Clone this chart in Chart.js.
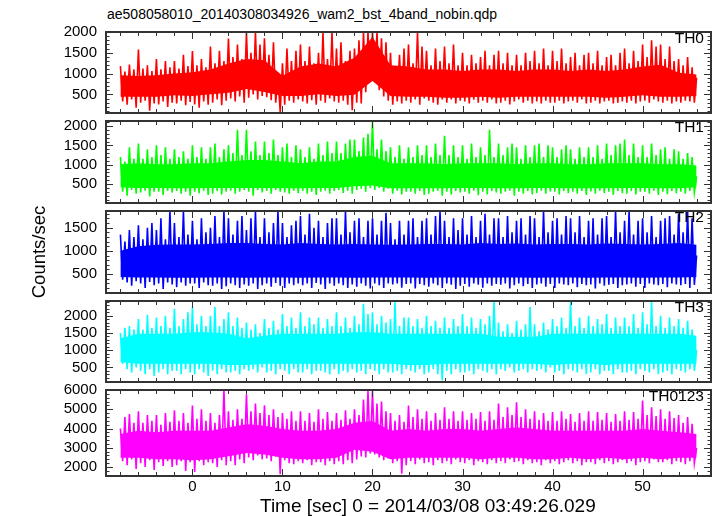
<!DOCTYPE html>
<html><head><meta charset="utf-8">
<script src="https://cdn.jsdelivr.net/npm/chart.js@4.4.1/dist/chart.umd.min.js"></script>
<style>
html,body{margin:0;padding:0;background:#fff;}
#wrap{position:relative;width:717px;height:516px;overflow:hidden;font-family:"Liberation Sans",Arial,Helvetica,sans-serif;}
canvas{position:absolute;left:0;}
.lbl{position:absolute;font-size:15.5px;line-height:18px;color:#000;white-space:nowrap;}
</style></head><body>
<div id="wrap"></div>
<script>
const TITLE = "ae508058010_20140308034926_wam2_bst_4band_nobin.qdp";
const X_LABEL = "Time [sec] 0 = 2014/03/08 03:49:26.029";
const Y_LABEL = "Counts/sec";
const PANEL_NAMES = ["TH0", "TH1", "TH2", "TH3", "TH0123"];
const TIME_START = -8, TIME_STEP = 0.25;   // fine light-curve samples
const CORE_STEP = 2;                       // dense-band envelope samples

// fine samples (alternating local highs / lows), counts/sec
const TH0 = [
1180,330,1050,250,1220,380,1100,180,
1580,300,1120,350,1200,110,1060,280,
1350,260,1100,330,1300,200,1150,300,
1300,280,1120,350,1450,240,1180,320,
1540,260,1200,180,1350,330,1150,250,
1650,300,1250,380,1550,240,1300,350,
1840,400,1400,330,1700,450,1350,300,
2000,420,1500,500,2000,380,1700,460,
1850,430,1450,360,1750,300,950,70,
1250,250,1600,350,1300,300,1550,380,
1700,330,1300,280,1650,360,1250,250,
1500,350,2000,300,1350,400,2000,330,
1600,300,1750,350,1300,250,1550,120,
1600,300,1800,280,2000,550,2000,800,
2000,800,2000,600,1850,450,1750,350,
1500,250,1150,330,1450,280,1600,350,
1700,300,1250,380,2000,250,1650,400,
1550,350,1200,300,1600,250,1300,380,
1650,300,1250,380,1700,280,1200,350,
1500,330,1200,280,1450,370,1250,300,
1400,350,1550,300,1200,380,1450,280,
1550,300,1250,350,1500,260,1200,330,
1450,380,1200,300,1500,350,1300,280,
1550,330,1250,280,1600,350,1200,300,
1550,300,1300,350,1600,280,1250,330,
1400,350,1500,300,1200,380,1450,280,
1500,300,1250,350,1550,280,1200,330,
1400,350,1450,280,1200,300,1500,330,
1600,300,1250,350,1550,280,1300,330,
1700,350,1400,300,1800,380,1650,330,
1700,300,1350,350,1650,280,1300,330,
1350,300,1200,350,1400,330,1150,300,
900];

const TH1 = [
1200,300,1080,200,1450,350,1150,250,
1550,280,1150,330,1400,180,1200,300,
1500,300,1250,220,1450,330,1150,280,
1400,320,1200,250,1350,300,1150,200,
1500,300,1200,260,1450,330,1150,220,
1450,250,1550,320,1200,230,1400,300,
1500,330,1300,250,1900,300,1250,350,
1900,300,1350,200,1600,350,1250,280,
1600,320,1300,250,1650,350,1250,300,
1450,280,1550,250,1200,330,1500,260,
1400,320,1200,250,1450,300,1150,220,
1550,300,1250,330,1600,250,1300,320,
1600,350,1300,270,1550,330,1650,250,
1650,350,1350,380,1700,300,1800,400,
2100,350,1400,400,1650,300,1350,380,
1450,250,1200,330,1500,230,1150,300,
1450,300,1200,250,1500,320,1250,220,
1500,250,1200,300,1550,330,1250,200,
1750,300,1250,230,1500,320,1200,280,
1500,300,1150,250,1550,330,1200,210,
1450,300,1250,230,1900,320,1200,280,
1550,250,1250,300,1450,330,1550,200,
1450,300,1150,250,1500,320,1200,230,
1500,270,1550,330,1200,250,1500,310,
1450,300,1200,230,1400,320,1500,260,
1400,300,1150,250,1450,320,1200,220,
1450,310,1200,250,1500,330,1150,270,
1550,300,1250,220,1500,320,1550,260,
1650,250,1250,320,1550,230,1200,300,
1500,300,1200,250,1550,330,1250,220,
1400,300,1450,240,1150,320,1400,260,
1350,300,1150,250,1300,320,1200,280,
700];

const TH2 = [
1350,380,1200,320,1450,250,1300,350,
1550,300,1250,200,1500,330,1600,260,
1450,300,1700,180,1250,320,1860,280,
1600,220,1300,320,1860,250,1350,300,
1650,300,1250,200,1700,320,1400,260,
1500,250,1750,300,1300,180,1860,240,
1700,300,1350,260,1650,200,1750,280,
1450,250,1700,300,1860,180,1300,260,
1700,300,1400,230,1600,310,1860,250,
1600,200,1300,300,1550,260,1650,300,
1750,260,1350,300,1800,200,1500,310,
1650,280,1300,180,1600,300,1700,250,
1700,300,1350,260,1860,200,1400,280,
1650,230,1700,300,1300,250,1650,190,
1700,300,1350,260,1650,200,1820,300,
1600,280,1250,300,1650,210,1350,290,
1650,300,1700,190,1300,290,1650,260,
1700,230,1350,300,1750,260,1860,200,
1650,300,1300,270,1700,180,1450,250,
1700,290,1350,230,1750,300,1300,270,
1650,210,1800,300,1350,250,1700,290,
1700,270,1300,300,1750,190,1400,260,
1650,300,1700,240,1350,290,1750,200,
1700,280,1300,300,1860,230,1400,290,
1650,200,1700,300,1350,280,1750,260,
1700,300,1400,220,1750,290,1300,260,
1650,280,1700,190,1350,300,1700,250,
1750,270,1300,290,1860,200,1400,260,
1650,280,1860,300,1350,230,1650,290,
1700,200,1400,300,1750,280,1300,260,
1650,290,1700,220,1750,300,1350,280,
1800,260,1400,290,1860,200,1700,270,
900];

const TH3 = [
1500,600,1650,450,1700,350,1600,500,
1900,400,1600,300,2030,450,1650,250,
1950,350,1700,450,2000,300,1650,400,
2200,400,1700,300,1900,450,2100,350,
2250,300,1750,450,2000,350,1700,250,
2000,400,2250,300,1700,450,1900,350,
2100,350,1700,400,1950,300,1650,450,
1800,400,1600,450,1750,350,1500,500,
1900,350,1650,400,1850,300,1600,450,
2050,400,1700,300,1950,450,1650,350,
2100,350,1700,450,1950,300,1750,400,
1950,400,1650,350,1900,300,1700,450,
2100,300,1700,400,1950,350,1650,450,
2000,350,1750,400,2350,300,2050,450,
2100,400,1750,300,2000,450,1800,350,
1900,350,2400,400,1700,300,1950,450,
1950,400,1700,350,1900,450,1650,300,
2000,350,1700,450,1850,300,1650,120,
1950,400,1650,300,1900,450,1700,350,
2050,350,1700,400,1950,300,1650,450,
1900,400,1750,350,2000,450,2427,300,
1800,450,1550,400,1750,500,1500,350,
1850,400,1600,450,1750,350,2250,450,
1750,400,1550,450,1800,350,1600,500,
1900,350,1700,400,1950,300,1650,450,
2400,400,1700,350,1950,450,1650,300,
2000,350,1700,450,1900,300,1750,400,
2050,400,1650,300,1950,450,1700,350,
1950,350,1700,400,2050,300,1650,450,
2100,400,1750,350,2400,450,1700,300,
2000,350,1650,400,1950,300,1700,450,
1900,400,1650,350,1850,450,1600,400,
1000];

const TH0123 = [
4000,2300,4600,2100,4750,2400,4300,1900,
4900,2200,4300,2000,4700,2350,4400,1850,
4700,2250,4200,2050,4800,2300,4350,2000,
4950,2100,4400,2300,4800,1800,4300,2250,
5200,1750,4500,2300,5000,2100,4400,2250,
4800,2200,4300,2000,4700,2350,6000,2100,
4900,2300,4450,2100,5000,2400,4500,2200,
5780,2500,4900,2350,5300,2600,4800,2400,
5200,2450,4700,2300,5000,2550,4600,1630,
4800,2350,4500,2200,4900,2150,4400,2300,
4900,2200,4400,2350,4800,2100,4350,2250,
5000,2250,4500,2100,4850,2300,4400,2150,
4800,2300,4450,2150,4950,2350,4500,2200,
5000,2400,4700,2550,5500,2500,5950,2700,
5950,2650,5300,2500,5400,2350,4900,2450,
4800,2200,4400,2300,4700,1650,4350,2100,
5200,2300,4600,2150,5000,2400,4500,2200,
4900,2250,4400,2100,4800,2350,4450,2200,
5100,2300,4500,2150,4900,2400,4400,2250,
4900,2200,4450,2350,4800,2100,4500,2300,
4850,2250,4400,2150,4900,2350,4450,2200,
5300,2300,4600,2200,5100,2400,4700,2250,
5365,2300,4600,2150,5000,2350,4500,2200,
4900,2250,4450,2100,4800,2350,4400,2200,
4850,2300,4400,2150,4900,2250,4500,2350,
4750,2200,4350,2300,4800,2100,4400,2250,
4900,2250,4400,2150,4850,2350,4450,2200,
4800,2300,4350,2150,4750,2250,4400,2350,
4900,2200,4450,2300,4850,2100,4500,2250,
5450,2300,4700,2200,5100,2400,4650,2250,
5000,2250,4500,2350,4900,2150,4550,2300,
4700,2250,4300,2150,4600,2300,4250,2200,
3000];

// dense (solid) band edges every 2 s, t = -8 ... 56
const TH0_CORE_HI = [960,940,960,1000,1030,1100,1240,1350,1320,950,1170,1240,1170,1380,1880,1200,1170,1100,1100,1060,1100,1100,1060,1100,1100,1060,1100,1060,1100,1170,1210,1020,980];
const TH0_CORE_LO = [440,440,440,480,460,500,540,630,560,460,460,500,460,490,820,460,440,440,420,420,440,420,440,440,440,440,440,420,440,480,440,440,460];
const TH1_CORE_HI = [1010,1040,1010,1010,1040,1040,1080,1120,1120,1080,1040,1080,1080,1200,1230,1040,1040,1040,1010,1040,1040,1040,1010,1040,1040,1010,1010,1040,1040,1040,1010,1010,980];
const TH1_CORE_LO = [420,400,400,390,390,400,400,400,400,390,390,400,400,440,460,390,390,390,390,400,400,390,390,400,400,390,390,390,400,400,390,390,420];
const TH2_CORE_HI = [1005,1100,1130,1140,1140,1150,1170,1170,1150,1140,1170,1150,1140,1150,1140,1130,1140,1150,1150,1140,1170,1150,1160,1140,1150,1150,1140,1160,1150,1140,1150,1170,1130];
const TH2_CORE_LO = [440,430,430,420,420,430,430,420,430,430,420,430,430,420,430,430,430,420,430,430,420,430,430,420,430,430,420,430,430,420,430,430,440];
const TH3_CORE_HI = [1345,1475,1475,1475,1520,1520,1475,1345,1420,1475,1475,1475,1475,1520,1520,1475,1475,1475,1475,1475,1475,1390,1390,1390,1475,1475,1475,1475,1475,1475,1475,1475,1420];
const TH3_CORE_LO = [650,603,603,603,603,603,570,570,603,603,603,603,603,603,603,603,570,570,603,603,603,603,603,603,570,603,603,570,603,603,603,603,603];
const TH0123_CORE_HI = [3720,3890,3800,3890,3890,3890,4050,4220,4140,3970,3890,3890,3970,4300,4385,3890,3970,3890,3970,3970,3890,3970,4050,3970,3890,3890,3890,3890,3890,3970,3890,3800,3720];
const TH0123_CORE_LO = [2480,2480,2400,2400,2350,2400,2560,2730,2650,2480,2400,2400,2480,2900,2800,2400,2480,2480,2480,2480,2400,2480,2480,2400,2400,2480,2400,2480,2400,2480,2400,2480,2480];

const SERIES = [TH0, TH1, TH2, TH3, TH0123];
const CORE_HI = [TH0_CORE_HI, TH1_CORE_HI, TH2_CORE_HI, TH3_CORE_HI, TH0123_CORE_HI];
const CORE_LO = [TH0_CORE_LO, TH1_CORE_LO, TH2_CORE_LO, TH3_CORE_LO, TH0123_CORE_LO];
const COLORS = ["#ff0000", "#00ff00", "#0000ff", "#00ffff", "#ff00ff"];
const X_RANGE = [-9.6, 57.6];
const X_TICKS = [0, 10, 20, 30, 40, 50];
const Y_RANGES = [[52, 2000], [10, 2130], [94, 1859], [76, 2427], [1535, 6000]];
const Y_TICKS = [[500, 1000, 1500, 2000], [500, 1000, 1500, 2000], [500, 1000, 1500], [500, 1000, 1500, 2000], [2000, 3000, 4000, 5000, 6000]];
const Y_MINOR = [100, 100, 100, 100, 200];
const Y_MAJOR = [500, 500, 500, 500, 1000];

const TIME = TH0.map((_, i) => TIME_START + i * TIME_STEP);
const CORE_TIME = TH0_CORE_HI.map((_, i) => TIME_START + i * CORE_STEP);

// layout
const W = 717, H = 516;
const PANEL_TOPS = [28, 117, 207, 297, 386];
const PLOT_BOTTOM = 476, PLOT_LEFT = 106, PLOT_RIGHT = 711, PAD = 14;
const FAMILY = '"Liberation Sans", Arial, Helvetica, sans-serif';
const TICK_FONT = {family: FAMILY, size: 15};
const YTITLE_FONT = {family: FAMILY, size: 18.5};

const frameTicks = {
  id: 'frameTicks',
  afterDraw(chart, args, opts) {
    const {ctx, chartArea: a, scales: {x, y}} = chart;
    ctx.save();
    ctx.strokeStyle = '#333';
    ctx.lineWidth = 1;
    ctx.beginPath();
    for (let v = Math.ceil(x.min / 2) * 2; v <= x.max; v += 2) {
      const px = Math.round(x.getPixelForValue(v)) + 0.5;
      const len = (v % 10 === 0) ? 7 : 4;
      ctx.moveTo(px, a.top); ctx.lineTo(px, a.top + len);
      ctx.moveTo(px, a.bottom); ctx.lineTo(px, a.bottom - len);
    }
    for (let v = Math.ceil(y.min / opts.minor) * opts.minor; v <= y.max; v += opts.minor) {
      const py = Math.round(y.getPixelForValue(v)) + 0.5;
      const len = (v % opts.major === 0) ? 7 : 3.5;
      ctx.moveTo(a.left, py); ctx.lineTo(a.left + len, py);
      ctx.moveTo(a.right, py); ctx.lineTo(a.right - len, py);
    }
    ctx.stroke();
    ctx.lineWidth = 2;
    ctx.strokeRect(a.left, a.top, a.right - a.left, a.bottom - a.top);
    ctx.restore();
  }
};

const wrap = document.getElementById('wrap');
function addLabel(text, css) {
  const d = document.createElement('div');
  d.className = 'lbl';
  Object.assign(d.style, css);
  d.textContent = text;
  wrap.appendChild(d);
}
addLabel(TITLE, {left: '107px', top: '6px', fontSize: '14px', lineHeight: '16px'});

SERIES.forEach((vals, i) => {
  const top = PANEL_TOPS[i];
  const isLast = i === SERIES.length - 1;
  const bottom = isLast ? PLOT_BOTTOM : PANEL_TOPS[i + 1];
  const h = bottom - top;
  const cv = document.createElement('canvas');
  cv.width = W;
  cv.height = isLast ? (H - top + PAD) : (h + 2 * PAD);
  cv.style.top = (top - PAD) + 'px';
  cv.style.width = W + 'px';
  cv.style.height = cv.height + 'px';
  wrap.appendChild(cv);

  new Chart(cv, {
    type: 'line',
    data: {
      datasets: [
        {
          data: CORE_TIME.map((tt, k) => ({x: tt, y: CORE_HI[i][k]})),
          borderWidth: 0, pointRadius: 0, fill: false, tension: 0,
          borderColor: COLORS[i]
        },
        {
          data: CORE_TIME.map((tt, k) => ({x: tt, y: CORE_LO[i][k]})),
          borderWidth: 0, pointRadius: 0, tension: 0,
          borderColor: COLORS[i], backgroundColor: COLORS[i],
          fill: '-1'
        },
        {
          data: TIME.map((tt, k) => ({x: tt, y: vals[k]})),
          borderColor: COLORS[i],
          borderWidth: 1.6,
          pointRadius: 0,
          fill: false,
          tension: 0
        }
      ]
    },
    options: {
      responsive: false,
      devicePixelRatio: 1,
      animation: false,
      events: [],
      layout: {padding: {top: PAD, bottom: isLast ? 0 : PAD, left: 0, right: W - PLOT_RIGHT}},
      plugins: {
        legend: {display: false},
        tooltip: {enabled: false},
        filler: {propagate: false},
        frameTicks: {minor: Y_MINOR[i], major: Y_MAJOR[i]}
      },
      scales: {
        x: {
          type: 'linear', min: X_RANGE[0], max: X_RANGE[1],
          display: isLast,
          afterBuildTicks: s => { s.ticks = X_TICKS.map(v => ({value: v})); },
          afterFit: s => { s.height = isLast ? H - PLOT_BOTTOM : 0; },
          grid: {display: false, drawTicks: false},
          border: {display: false},
          ticks: {padding: 2, font: TICK_FONT, color: '#000', maxRotation: 0, autoSkip: false, callback: v => String(v)},
          title: {display: false}
        },
        y: {
          type: 'linear', min: Y_RANGES[i][0], max: Y_RANGES[i][1],
          afterBuildTicks: s => { s.ticks = Y_TICKS[i].map(v => ({value: v})); },
          afterFit: s => { s.width = PLOT_LEFT; },
          grid: {display: false, drawTicks: false},
          border: {display: false},
          ticks: {padding: 9, font: TICK_FONT, color: '#000', callback: v => String(v)},
          title: {display: i === 2, text: Y_LABEL, font: YTITLE_FONT, color: '#000', padding: {top: 29, bottom: 0}}
        }
      }
    },
    plugins: [frameTicks]
  });

  addLabel(PANEL_NAMES[i], {right: (W - 704) + 'px', top: (top + 1) + 'px'});
});

addLabel(X_LABEL, {left: '260px', top: '495px', fontSize: '19px', lineHeight: '22px'});
</script>
</body></html>
